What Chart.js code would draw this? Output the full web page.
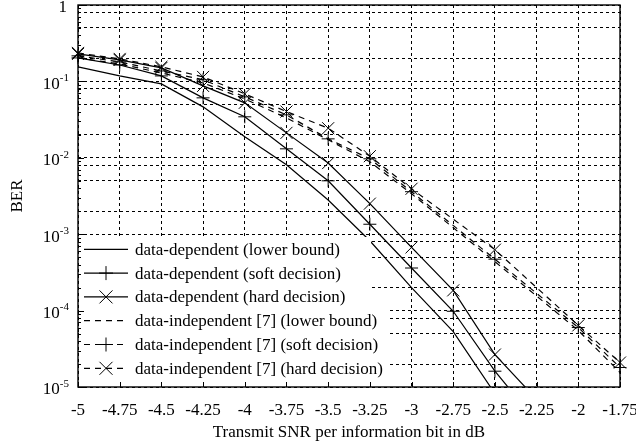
<!DOCTYPE html>
<html>
<head>
<meta charset="utf-8">
<script src="https://cdn.jsdelivr.net/npm/chart.js@4.4.0/dist/chart.umd.min.js"></script>
<style>
  html, body { margin: 0; padding: 0; background: #fff; }
  #wrap { width: 636px; height: 447px; }
</style>
</head>
<body>
<div id="wrap"><canvas id="myChart"></canvas></div>
<script>
// x values (dB)
var snrSolid = [-5, -4.75, -4.5, -4.25, -4, -3.75, -3.5, -3.25, -3, -2.75, -2.5, -2.25];
var snrDashed = [-5, -4.75, -4.5, -4.25, -4, -3.75, -3.5, -3.25, -3, -2.5, -2, -1.75];

// BER values
var depLower = [0.155, 0.118, 0.0927, 0.0464, 0.0188, 0.0081, 0.0028, 0.00082, 0.0002, 5.3e-5, 8.2e-6];
var depSoft  = [0.203, 0.164, 0.118, 0.0609, 0.0344, 0.0131, 0.0050, 0.00135, 0.000361, 9.8e-5, 1.61e-5, 3.5e-6];
var depHard  = [0.229, 0.191, 0.150, 0.0873, 0.0524, 0.0212, 0.00853, 0.00251, 0.000672, 0.000184, 2.66e-5, 6.9e-6];
var indLower = [0.203, 0.169, 0.129, 0.0956, 0.059, 0.0333, 0.0172, 0.00887, 0.00338, 0.000437, 5.5e-5, 1.55e-5];
var indSoft  = [0.216, 0.180, 0.137, 0.105, 0.0627, 0.0365, 0.0177, 0.0097, 0.0036, 0.000471, 6.0e-5, 1.8e-5];
var indHard  = [0.236, 0.197, 0.155, 0.1145, 0.0687, 0.0403, 0.0244, 0.0105, 0.00393, 0.000627, 6.4e-5, 2.09e-5];

var seriesLabels = [
  "data-dependent (lower bound)",
  "data-dependent (soft decision)",
  "data-dependent (hard decision)",
  "data-independent [7] (lower bound)",
  "data-independent [7] (soft decision)",
  "data-independent [7] (hard decision)"
];

// y grid lines and decade labels
var yGridTicks = [1, 0.8, 0.5, 0.2, 0.1, 0.08, 0.05, 0.02, 0.01, 0.008, 0.005, 0.002,
  0.001, 8e-4, 5e-4, 2e-4, 1e-4, 8e-5, 5e-5, 2e-5, 1e-5];
var yDecades = [1, 0.1, 0.01, 0.001, 1e-4, 1e-5];
var yDecadeExp = ["", "-1", "-2", "-3", "-4", "-5"];

var FONT = "Liberation Serif";
Chart.defaults.font.family = FONT;
Chart.defaults.font.size = 17;
Chart.defaults.color = "#000";

function pts(xs, ys) {
  return ys.map(function (v, i) { return { x: xs[i], y: v }; });
}

function makeSet(i, xs, ys, dashed, style) {
  return {
    label: seriesLabels[i],
    data: pts(xs, ys),
    borderColor: "#000",
    borderWidth: 1.2,
    borderDash: dashed ? [6, 5] : [],
    pointStyle: style || "circle",
    pointRadius: style ? (style == "crossRot" ? 8.5 : 6.5) : 0,
    pointBorderColor: "#000",
    pointBorderWidth: 1,
    pointBackgroundColor: "#000",
    fill: false,
    tension: 0,
    clip: { left: 12, right: 12, top: 12, bottom: 0 },
    _dashed: dashed,
    _style: style
  };
}

function line(ctx, x1, y1, x2, y2) {
  ctx.beginPath(); ctx.moveTo(x1, y1); ctx.lineTo(x2, y2); ctx.stroke();
}

function marker(ctx, style, x, y) {
  ctx.setLineDash([]);
  ctx.lineWidth = 1;
  if (style == "cross") {
    line(ctx, x - 7, y, x + 7, y);
    line(ctx, x, y - 7, x, y + 7);
  } else if (style == "crossRot") {
    line(ctx, x - 6.5, y - 6.5, x + 6.5, y + 6.5);
    line(ctx, x - 6.5, y + 6.5, x + 6.5, y - 6.5);
  }
}

var framePlugin = {
  id: "frame",
  afterDraw: function (chart) {
    var ctx = chart.ctx, a = chart.chartArea;
    var xs = chart.scales.x, ys = chart.scales.y;
    ctx.save();

    // legend box
    var boxTop = a.bottom - 150;
    ctx.fillStyle = "#fff";
    ctx.fillRect(a.left + 1, boxTop, 292, 73);
    ctx.fillRect(a.left + 1, boxTop + 73, 310, a.bottom - boxTop - 74);
    ctx.font = "17px '" + FONT + "'";
    ctx.textBaseline = "middle";
    ctx.textAlign = "left";
    chart.data.datasets.forEach(function (d, i) {
      var ry = a.bottom - 137.7 + i * 23.8;
      var lx = a.left + 6;
      ctx.strokeStyle = "#000";
      ctx.lineWidth = 1.2;
      ctx.setLineDash(d._dashed ? [6, 5] : []);
      line(ctx, lx, ry, lx + 44, ry);
      if (d._style) marker(ctx, d._style, lx + 22, ry);
      ctx.fillStyle = "#000";
      ctx.fillText(d.label, a.left + 57, ry + 1);
    });
    ctx.setLineDash([]);

    // inward tick marks
    ctx.strokeStyle = "#000";
    ctx.lineWidth = 1;
    xs.ticks.forEach(function (t) {
      var px = Math.round(xs.getPixelForValue(t.value)) + 0.5;
      line(ctx, px, a.bottom, px, a.bottom - 5);
    });
    yDecades.forEach(function (v, k) {
      var py = Math.round(ys.getPixelForValue(v)) + 0.5;
      line(ctx, a.left, py, a.left + 6, py);
      if (k < yDecades.length - 1) {
        for (var m = 2; m <= 9; m++) {
          var pm = Math.round(ys.getPixelForValue(v * m / 10)) + 0.5;
          line(ctx, a.left, pm, a.left + 3, pm);
        }
      }
    });

    // plot frame
    ctx.lineWidth = 1.4;
    ctx.strokeRect(a.left, a.top, a.right - a.left, a.bottom - a.top);

    // y decade labels with superscript
    ctx.fillStyle = "#000";
    ctx.textBaseline = "middle";
    yDecades.forEach(function (v, k) {
      var py = ys.getPixelForValue(v);
      var rx = a.left - 9;
      if (!yDecadeExp[k]) {
        ctx.font = "17px '" + FONT + "'";
        ctx.textAlign = "right";
        ctx.fillText("1", rx - 2, py + 3);
      } else {
        ctx.font = "11px '" + FONT + "'";
        ctx.textAlign = "right";
        ctx.fillText(yDecadeExp[k], rx, py - 3);
        var ew = ctx.measureText(yDecadeExp[k]).width;
        ctx.font = "17px '" + FONT + "'";
        ctx.fillText("10", rx - ew, py + 3);
      }
    });
    ctx.restore();
  }
};

var ctx = document.getElementById("myChart").getContext("2d");
var chart = new Chart(ctx, {
  type: "line",
  data: {
    datasets: [
      makeSet(0, snrSolid, depLower, false, null),
      makeSet(1, snrSolid, depSoft, false, "cross"),
      makeSet(2, snrSolid, depHard, false, "crossRot"),
      makeSet(3, snrDashed, indLower, true, null),
      makeSet(4, snrDashed, indSoft, true, "cross"),
      makeSet(5, snrDashed, indHard, true, "crossRot")
    ]
  },
  options: {
    responsive: true,
    maintainAspectRatio: false,
    animation: false,
    devicePixelRatio: 1,
    layout: { autoPadding: false, padding: { left: 0, top: 5, right: 16, bottom: 0 } },
    plugins: { legend: { display: false }, tooltip: { enabled: false } },
    scales: {
      x: {
        type: "linear",
        min: -5,
        max: -1.75,
        afterFit: function (s) { s.height = 60; s.paddingLeft = 0; s.paddingRight = 0; },
        ticks: {
          stepSize: 0.25,
          autoSkip: false,
          maxRotation: 0,
          padding: 13,
          font: { size: 17 },
          callback: function (v) { return String(v); }
        },
        grid: { color: "#000", lineWidth: 1, drawTicks: false },
        border: { display: false, dash: [3, 3] },
        title: {
          display: true,
          text: "Transmit SNR per information bit in dB",
          font: { size: 17 },
          padding: { top: 4.6, bottom: 3.8 }
        }
      },
      y: {
        type: "logarithmic",
        min: 1e-5,
        max: 1,
        afterFit: function (s) { s.width = 78; },
        afterBuildTicks: function (axis) {
          axis.ticks = yGridTicks.map(function (v) { return { value: v }; });
        },
        ticks: { display: false },
        grid: { color: "#000", lineWidth: 1, drawTicks: false },
        border: { display: false, dash: [3, 3] },
        title: {
          display: true,
          text: "BER",
          font: { size: 17 },
          padding: { top: 7.8, bottom: 49.8 }
        }
      }
    }
  },
  plugins: [framePlugin]
});
</script>
</body>
</html>
